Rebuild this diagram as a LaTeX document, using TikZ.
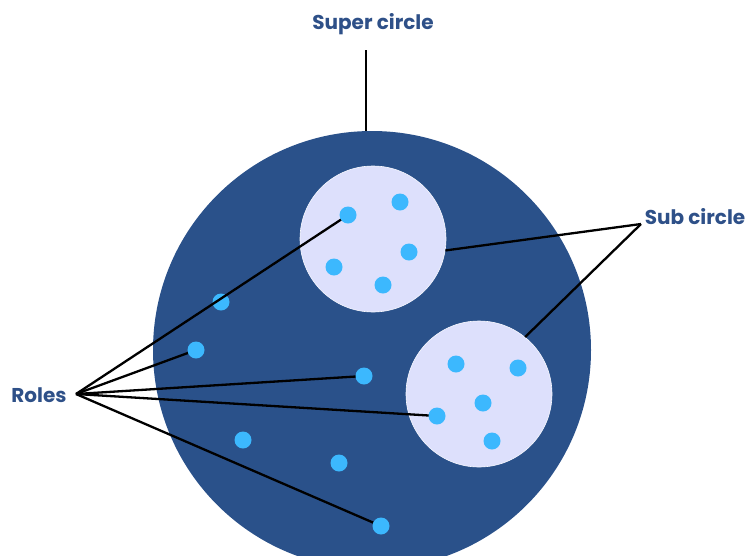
\documentclass[tikz,border=0pt]{standalone}
\usepackage{fontspec}
\setmainfont{Poppins}
\usetikzlibrary{positioning}
\definecolor{superblue}{HTML}{2A518A}
\definecolor{sublilac}{HTML}{DDE0FC}
\definecolor{roledot}{HTML}{3CB8FE}
\definecolor{labelblue}{HTML}{2E5088}
\pgfdeclarelayer{dots}
\pgfsetlayers{main,dots}

\begin{document}
\begin{tikzpicture}[x=1pt,y=-1pt,
    lbl/.style={text=labelblue,font=\bfseries\fontsize{20}{24}\selectfont,inner sep=0pt},
    subc/.style={circle,fill=sublilac,draw=white!80!sublilac,line width=0.6pt,minimum size=146pt,inner sep=0pt},
    role/.style={circle,fill=roledot,minimum size=17pt,inner sep=0pt},
    lead/.style={black,line width=2.3pt}
  ]
  \useasboundingbox (0,0) rectangle (747,555);
  \begin{scope}
    \clip (0,0) rectangle (747,555);
    \node[circle,fill=superblue,minimum size=438pt,inner sep=0pt] (super) at (372,350) {};
  \end{scope}
  \node[subc] (subA) at (373,239) {};
  \node[subc] (subB) at (479,394) {};
  % labels
  \node[lbl] (superlbl) at (373,24) {Super circle};
  \node[lbl] (sublbl) at (695,217) {Sub circle};
  \node[lbl] (roleslbl) at (39,395) {Roles};
  \coordinate (supertick) at (366,50);
  \coordinate (subfork) at (641,224);
  \coordinate (rolesfork) at (76,394);
  % this one sits under a leader line
  \node[role] (m1) at (221,302) {};
  \begin{pgfonlayer}{dots}
  % roles inside sub circle A
  \node[role] (a1) at (348,215) {};
  \node[role] (a2) at (400,202) {};
  \node[role] (a3) at (409,252) {};
  \node[role] (a4) at (334,267) {};
  \node[role] (a5) at (383,285) {};
  % roles inside sub circle B
  \node[role] (b1) at (456,364) {};
  \node[role] (b2) at (518,368) {};
  \node[role] (b3) at (483,403) {};
  \node[role] (b4) at (437,416) {};
  \node[role] (b5) at (492,441) {};
  % roles in the super circle
  \node[role] (m2) at (196,350) {};
  \node[role] (m3) at (364,376) {};
  \node[role] (m4) at (243,440) {};
  \node[role] (m5) at (339,463) {};
  \node[role] (m6) at (381,526) {};
  \end{pgfonlayer}
  % leader lines
  \draw[lead] (supertick) -- (supertick |- super.north);
  \draw[lead] (subfork) -- (subA.-9);
  \draw[lead] (subfork) -- (subB.51);
  \foreach \r in {a1,m2,m3,b4,m6}
    \draw[lead] (rolesfork) -- (\r.center);
\end{tikzpicture}
\end{document}
